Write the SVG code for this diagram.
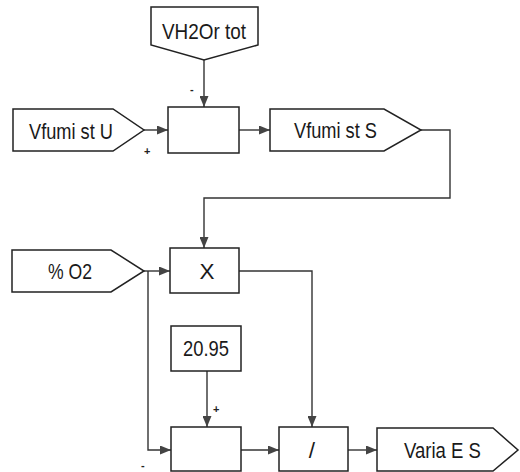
<svg xmlns="http://www.w3.org/2000/svg" width="520" height="472" viewBox="0 0 520 472">
<defs>
<marker id="ah" viewBox="0 0 11 9" refX="11" refY="4.5" markerWidth="11" markerHeight="9" markerUnits="userSpaceOnUse" orient="auto">
<path d="M0,0 L11,4.5 L0,9 Z" fill="#444"/>
</marker>
<style>
.s{fill:#fff;stroke:#222;stroke-width:1.5}
.c{fill:none;stroke:#333;stroke-width:1.4}
.t{font-family:"Liberation Sans",Arial,sans-serif;font-size:22.5px;fill:#1a1a1a}
.m{font-family:"Liberation Sans",Arial,sans-serif;font-size:11px;fill:#222;font-weight:bold}
</style>
</defs>
<rect width="520" height="472" fill="#fff"/>
<g id="connectors">
<path class="c" d="M204,60 V107" marker-end="url(#ah)"/>
<path class="c" d="M144,130 H168" marker-end="url(#ah)"/>
<path class="c" d="M239,130 H270" marker-end="url(#ah)"/>
<path class="c" d="M421,130 H450 V198 H204 V248" marker-end="url(#ah)"/>
<path class="c" d="M144,271 H170" marker-end="url(#ah)"/>
<path class="c" d="M148,271 V450 H171" marker-end="url(#ah)"/>
<path class="c" d="M239,271 H312 V427" marker-end="url(#ah)"/>
<path class="c" d="M207,371 V427" marker-end="url(#ah)"/>
<path class="c" d="M241,450 H279" marker-end="url(#ah)"/>
<path class="c" d="M348,450 H377" marker-end="url(#ah)"/>
<text class="m" x="190" y="93">-</text>
<text class="m" x="144" y="155">+</text>
<text class="m" x="213" y="413">+</text>
<text class="m" x="141" y="469">-</text>
</g>
<g id="vh2or">
<path class="s" d="M151,7 H258 V45 L204,60 L151,45 Z"/>
<text class="t" x="162" y="39" textLength="84" lengthAdjust="spacingAndGlyphs">VH2Or tot</text>
</g>
<g id="vfumiU">
<path class="s" d="M13,109 H113 L144,130 L113,151 H13 Z"/>
<text class="t" x="29" y="139" textLength="84" lengthAdjust="spacingAndGlyphs">Vfumi st U</text>
</g>
<g id="sub1">
<rect class="s" x="168" y="107" width="71" height="46"/>
</g>
<g id="vfumiS">
<path class="s" d="M270,109 H384 L421,130 L384,151 H270 Z"/>
<text class="t" x="294" y="138" textLength="83" lengthAdjust="spacingAndGlyphs">Vfumi st S</text>
</g>
<g id="o2">
<path class="s" d="M12,250 H111 L144,271 L111,292 H12 Z"/>
<text class="t" x="48" y="279" textLength="44" lengthAdjust="spacingAndGlyphs">% O2</text>
</g>
<g id="mul">
<rect class="s" x="170" y="248" width="69" height="45"/>
<text class="t" x="207" y="279" text-anchor="middle">X</text>
</g>
<g id="const">
<rect class="s" x="171" y="326" width="70" height="45"/>
<text class="t" x="183" y="356" textLength="46" lengthAdjust="spacingAndGlyphs">20.95</text>
</g>
<g id="sub2">
<rect class="s" x="171" y="427" width="70" height="44"/>
</g>
<g id="div">
<rect class="s" x="279" y="427" width="69" height="44"/>
<text class="t" x="312" y="458" text-anchor="middle">/</text>
</g>
<g id="varia">
<path class="s" d="M377,428 H493 L518,450 L493,471 H377 Z"/>
<text class="t" x="404" y="458" textLength="77" lengthAdjust="spacingAndGlyphs">Varia E S</text>
</g>
</svg>
